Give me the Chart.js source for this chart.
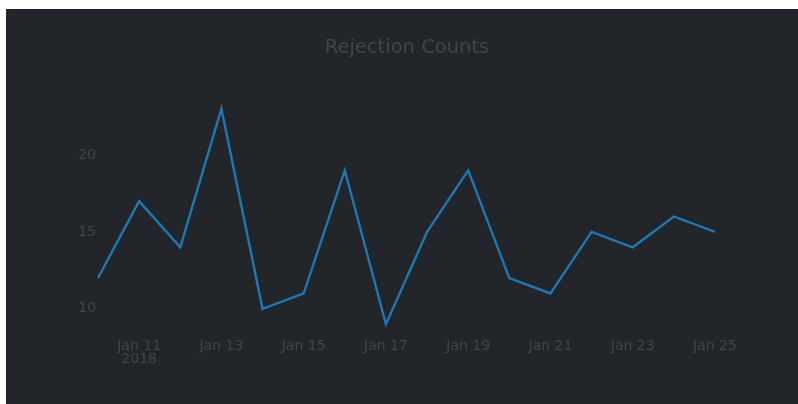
<!DOCTYPE html>
<html>
<head>
<meta charset="utf-8">
<script src="https://cdn.jsdelivr.net/npm/chart.js@4"></script>
<style>
    html, body { margin: 0; padding: 0; background: #ffffff; }
    #wrap { position: absolute; left: 6px; top: 9px; width: 792px; height: 395px; background: #22252a; }
    canvas { display: block; }
</style>
</head>
<body>
<div id="wrap"><canvas id="lineChart" width="792" height="395"></canvas></div>
<script>
// les données du graphique
var days = ['Jan 10', 'Jan 11', 'Jan 12', 'Jan 13', 'Jan 14', 'Jan 15', 'Jan 16', 'Jan 17',
            'Jan 18', 'Jan 19', 'Jan 20', 'Jan 21', 'Jan 22', 'Jan 23', 'Jan 24', 'Jan 25'];
var counts = [12, 17, 14, 23, 10, 11, 19, 9, 15, 19, 12, 11, 15, 14, 16, 15];
var yTicks = [10, 15, 20];
var yearLabel = '2018';

var textColor = '#414449';

var ctx = document.getElementById('lineChart').getContext('2d');

var myChart = new Chart(ctx, {
    type: 'line',
    data: {
        labels: days,
        datasets: [{
            label: 'Rejections',
            data: counts,
            borderColor: '#1f77b4',
            borderWidth: 2.4,
            pointRadius: 0,
            tension: 0,
            fill: false
        }]
    },
    options: {
        responsive: false,
        animation: false,
        devicePixelRatio: 1,
        layout: { padding: { left: 10, right: 0, top: 0, bottom: 0 } },
        plugins: {
            legend: { display: false },
            tooltip: { enabled: false },
            title: {
                display: true,
                text: 'Rejection Counts',
                color: textColor,
                font: { family: 'DejaVu Sans', size: 19.5, weight: 'normal', lineHeight: 1.2 },
                padding: { top: 27, bottom: 38.6 }
            }
        },
        scales: {
            x: {
                type: 'category',
                offset: false,
                grid: { display: false, drawTicks: false },
                border: { display: false },
                ticks: {
                    autoSkip: false,
                    maxRotation: 0,
                    padding: 5,
                    color: textColor,
                    font: { family: 'DejaVu Sans', size: 14, lineHeight: 0.9 },
                    callback: function (value, index) {
                        if (index % 2 === 0) return '';
                        var lbl = days[index];
                        if (index === 1) return [lbl, yearLabel];
                        return lbl;
                    }
                },
                afterFit: function (scale) { scale.height = 69; }
            },
            y: {
                min: 8.3,
                max: 23.7,
                grid: { color: '#25282d', lineWidth: 1, drawTicks: false },
                border: { display: false },
                afterBuildTicks: function (scale) {
                    scale.ticks = yTicks.map(function (v) { return { value: v }; });
                },
                ticks: {
                    padding: 2,
                    color: textColor,
                    font: { family: 'DejaVu Sans', size: 14 }
                },
                afterFit: function (scale) { scale.width = 82; }
            },
            // axe vide à droite pour garder la marge
            yRight: {
                position: 'right',
                display: true,
                grid: { display: false, drawTicks: false },
                border: { display: false },
                ticks: { display: false },
                afterFit: function (scale) { scale.width = 83; }
            }
        }
    }
});
</script>
</body>
</html>
